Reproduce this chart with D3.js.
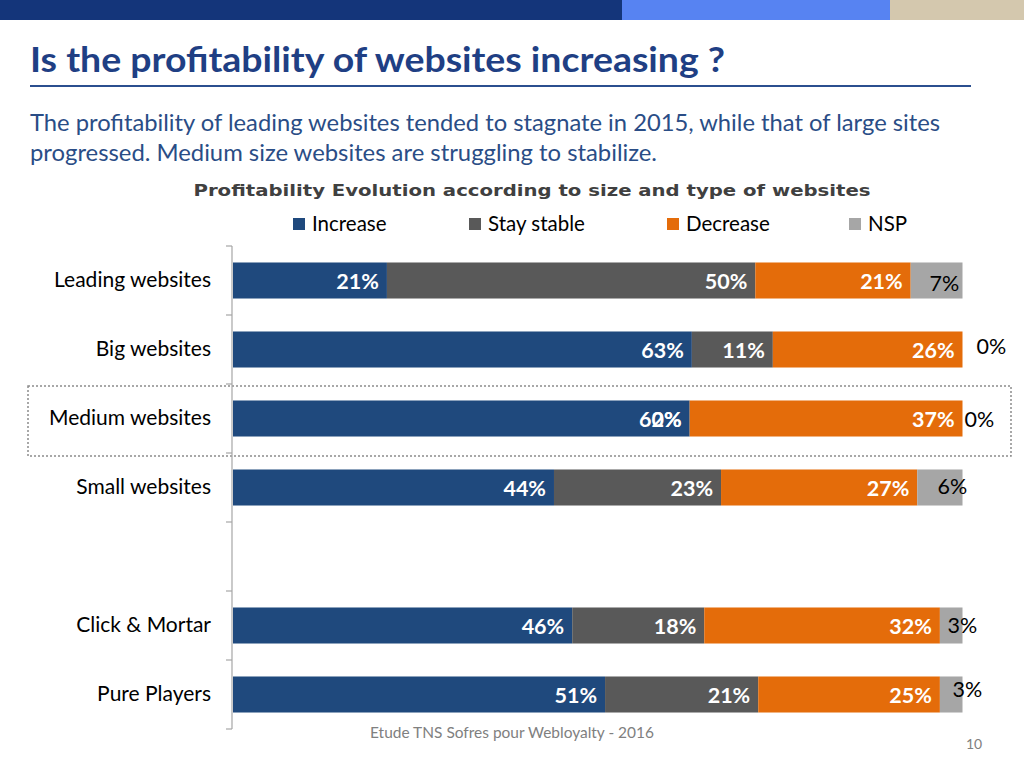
<!DOCTYPE html>
<html><head><meta charset="utf-8">
<script src="https://cdn.jsdelivr.net/npm/d3@7"></script>
<style>html,body{margin:0;padding:0;background:#fff;}svg{display:block;}</style>
</head><body>
<svg id="c" width="1024" height="768"></svg>
<script>
// ---- data ----
const categories = ["Leading websites","Big websites","Medium websites","Small websites"," ","Click & Mortar","Pure Players"];
const seriesNames = ["Increase","Stay stable","Decrease","NSP"];
const increase   = [21.1, 62.9, 62.6, 44.0, null, 46.5, 51.0];
const stayStable = [50.5, 11.1,  0.0, 22.9, null, 18.1, 21.0];
const decrease   = [21.3, 26.0, 37.4, 26.9, null, 32.3, 24.9];
const nsp        = [ 7.1,  0.0,  0.0,  6.2, null,  3.1,  3.1];
const labelIncrease = ["21%","63%","60%","44%",null,"46%","51%"];
const labelStable   = ["50%","11%","2%","23%",null,"18%","21%"];
const labelDecrease = ["21%","26%","37%","27%",null,"32%","25%"];
const labelNsp      = ["7%","0%","0%","6%",null,"3%","3%"];
const colors = ["#1F497D","#595959","#E46C0A","#A6A6A6"];
// label nudges for NSP labels (px, relative to bar end)
const nspNudge = [[-33,3],[14,-3],[2,1],[-25,-1],[0,0],[-15,0],[-10,-5]];

const svg = d3.select("#c");
const font = "Lato, 'Open Sans', sans-serif";

// banner
svg.append("rect").attr("x",0).attr("y",0).attr("width",622).attr("height",20).attr("fill","#14357A");
svg.append("rect").attr("x",622).attr("y",0).attr("width",268).attr("height",20).attr("fill","#5783F2");
svg.append("rect").attr("x",890).attr("y",0).attr("width",134).attr("height",20).attr("fill","#D4C8AE");

// title
svg.append("text").attr("x",30).attr("y",72).attr("font-family",font).attr("font-weight","bold")
  .attr("font-size",35).attr("fill","#1F3F84").attr("textLength",695).attr("lengthAdjust","spacingAndGlyphs")
  .text("Is the profitability of websites increasing ?");
svg.append("line").attr("x1",30).attr("x2",971).attr("y1",86).attr("y2",86).attr("stroke","#2B4F8F").attr("stroke-width",2);

// subtitle
const sub = ["The profitability of leading websites tended to stagnate in 2015, while that of large sites",
             "progressed. Medium size websites are struggling to stabilize."];
const subLen = [910, 627];
svg.selectAll("text.sub").data(sub).enter().append("text").attr("class","sub")
  .attr("x",30).attr("y",(d,i)=>131+i*30).attr("font-family",font).attr("font-size",22.5)
  .attr("fill","#2A4D86").attr("textLength",(d,i)=>subLen[i]).attr("lengthAdjust","spacingAndGlyphs").text(d=>d);

// chart title
svg.append("text").attr("x",532).attr("y",196).attr("text-anchor","middle")
  .attr("font-family","'DejaVu Sans', Verdana, sans-serif").attr("font-weight","bold").attr("font-size",16.5)
  .attr("fill","#404040").attr("textLength",677).attr("lengthAdjust","spacingAndGlyphs")
  .text("Profitability Evolution according to size and type of websites");

// legend
const legX = [293, 469, 667, 849];
const leg = svg.selectAll("g.leg").data(seriesNames).enter().append("g").attr("class","leg")
  .attr("transform",(d,i)=>`translate(${legX[i]},224)`);
leg.append("rect").attr("x",0).attr("y",-6).attr("width",12).attr("height",12).attr("fill",(d,i)=>colors[i]);
leg.append("text").attr("x",19).attr("y",0).attr("dy","0.35em").attr("font-family",font).attr("font-size",20.5)
  .attr("fill","#000").text(d=>d);

// scales
const x = d3.scaleLinear().domain([0,100]).range([233,962.5]);
const y = d3.scaleBand().domain(categories).range([246,729]).paddingInner(0.478).paddingOuter(0.239);

// stacked data
const rows = categories.map((c,i)=>({cat:c, Increase:increase[i], "Stay stable":stayStable[i], Decrease:decrease[i], NSP:nsp[i], i}));
const valid = rows.filter(r=>r.Increase!==null);
const stack = d3.stack().keys(seriesNames)(valid);
const labels = [labelIncrease,labelStable,labelDecrease,labelNsp];

// dotted highlight box
svg.append("rect").attr("x",28).attr("y",386).attr("width",983).attr("height",70)
  .attr("fill","none").attr("stroke","#8C8C8C").attr("stroke-width",1.5).attr("stroke-dasharray","2,2");

// bars
stack.forEach((s,k)=>{
  svg.append("g").selectAll("rect").data(s).enter().append("rect")
    .attr("x",d=>x(d[0])).attr("width",d=>Math.max(0,x(d[1])-x(d[0])))
    .attr("y",d=>y(d.data.cat)).attr("height",y.bandwidth()).attr("fill",colors[k]);
});

// axis
const axisG = svg.append("g").attr("transform","translate(232,0)");
axisG.call(d3.axisLeft(y).tickSize(0).tickPadding(21));
axisG.select(".domain").remove();
axisG.selectAll("text").attr("font-family",font).attr("font-size",21).attr("fill","#000");
const bounds = d3.range(categories.length+1).map(i=>y.range()[0]+i*y.step());
svg.append("line").attr("x1",232).attr("x2",232).attr("y1",246).attr("y2",729).attr("stroke","#A6A6A6").attr("stroke-width",1.2);
svg.selectAll("line.tk").data(bounds).enter().append("line").attr("class","tk")
  .attr("x1",226).attr("x2",232).attr("y1",d=>d).attr("y2",d=>d).attr("stroke","#A6A6A6").attr("stroke-width",1.2);

// inside labels (stable label for Medium sits at the same end as in the source)
stack.slice(0,3).forEach((s,k)=>{
  svg.append("g").selectAll("text").data(s).enter().append("text")
    .attr("x",d=>x(d[1])-8).attr("y",d=>y(d.data.cat)+y.bandwidth()/2+1)
    .attr("dy","0.36em").attr("text-anchor","end").attr("font-family",font).attr("font-weight","bold")
    .attr("font-size",21.5).attr("fill","#fff").text(d=>labels[k][d.data.i]);
});
// NSP labels
svg.append("g").selectAll("text").data(stack[3]).enter().append("text")
  .attr("x",d=>x(d[1])+nspNudge[d.data.i][0]).attr("y",d=>y(d.data.cat)+y.bandwidth()/2+nspNudge[d.data.i][1])
  .attr("dy","0.36em").attr("font-family",font).attr("font-size",21.5).attr("fill","#000")
  .text(d=>labelNsp[d.data.i]);

// footer
svg.append("text").attr("x",370).attr("y",738).attr("font-family",font).attr("font-size",15)
  .attr("fill","#808080").attr("textLength",284).attr("lengthAdjust","spacingAndGlyphs")
  .text("Etude TNS Sofres pour Webloyalty - 2016");
svg.append("text").attr("x",966).attr("y",749).attr("font-family",font).attr("font-size",14)
  .attr("fill","#808080").text("10");
</script>
</body></html>
